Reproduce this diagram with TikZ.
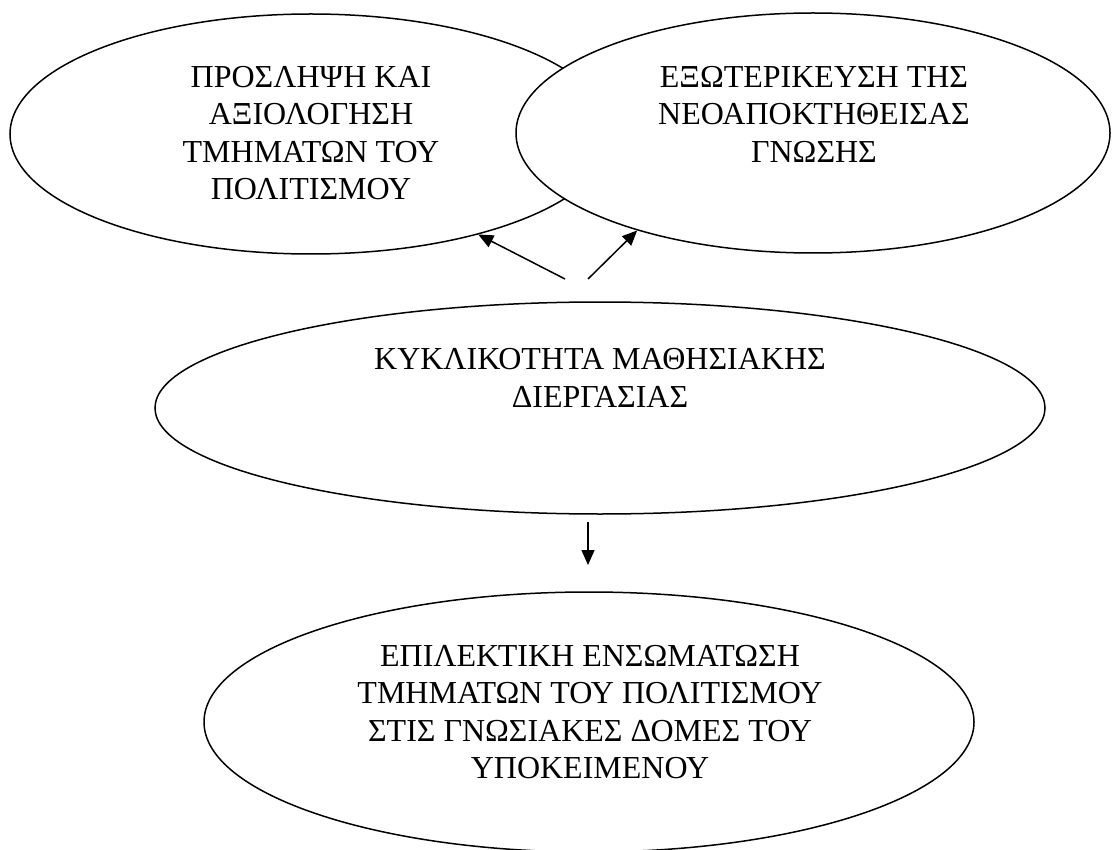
\documentclass[tikz,border=0pt]{standalone}
\usepackage{fontspec}
\setmainfont{Liberation Serif}
\usetikzlibrary{arrows.meta,positioning,shapes.geometric}

\begin{document}
\begin{tikzpicture}[
    x=1pt, y=-1pt,
    bubble/.style={draw, ellipse, fill=white, line width=1.5pt, inner sep=0pt},
    words/.style={align=center, inner sep=0pt, font=\fontsize{32}{37.5}\selectfont},
    arrow/.style={-{Triangle[length=15pt, width=13pt]}, line width=1.5pt}
]
\useasboundingbox (0,0) rectangle (1113,850);

\node[bubble, minimum width=602pt, minimum height=240pt] (percept) at (311,134) {};
\node[words] (percept-txt) at (311,133) {ΠΡΟΣΛΗΨΗ ΚΑΙ\\ΑΞΙΟΛΟΓΗΣΗ\\ΤΜΗΜΑΤΩΝ ΤΟΥ\\ΠΟΛΙΤΙΣΜΟΥ};
\node[bubble, minimum width=594pt, minimum height=240pt] (extern) at (813,133) {};
\node[words] (extern-txt) at (814,114) {ΕΞΩΤΕΡΙΚΕΥΣΗ ΤΗΣ\\ΝΕΟΑΠΟΚΤΗΘΕΙΣΑΣ\\ΓΝΩΣΗΣ};
\node[bubble, minimum width=890pt, minimum height=212pt] (cycle) at (600,408) {};
\node[words] (cycle-txt) at (600,378) {ΚΥΚΛΙΚΟΤΗΤΑ ΜΑΘΗΣΙΑΚΗΣ\\ΔΙΕΡΓΑΣΙΑΣ};
\node[bubble, minimum width=770pt, minimum height=260pt] (incorp) at (589,722) {};
\node[words] (incorp-txt) at (590,712) {ΕΠΙΛΕΚΤΙΚΗ ΕΝΣΩΜΑΤΩΣΗ\\ΤΜΗΜΑΤΩΝ ΤΟΥ ΠΟΛΙΤΙΣΜΟΥ\\ΣΤΙΣ ΓΝΩΣΙΑΚΕΣ ΔΟΜΕΣ ΤΟΥ\\ΥΠΟΚΕΙΜΕΝΟΥ};

\coordinate (fromleft) at (565,279);
\coordinate (fromright) at (588,279);
\coordinate (downstart) at (588,522);
\coordinate (downend) at (588,565);

\draw[arrow] (fromleft) -- (percept.-31.3);
\draw[arrow] (fromright) -- (extern.-151.2);
\draw[arrow] (downstart) -- (downend);
\end{tikzpicture}
\end{document}
